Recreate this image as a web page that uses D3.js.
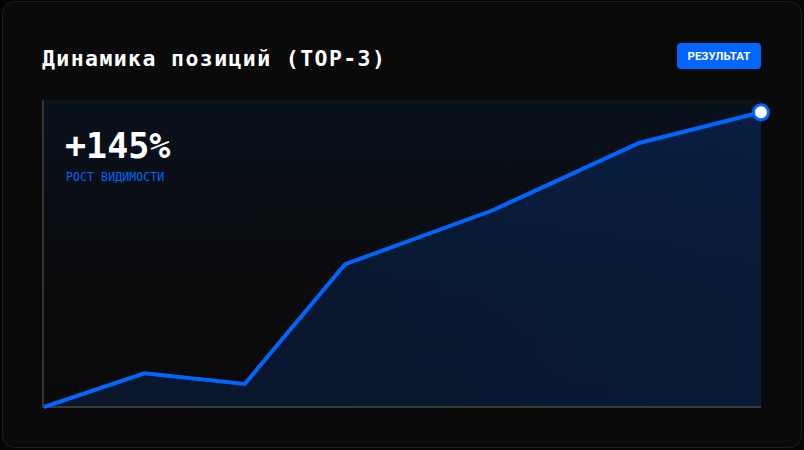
<!DOCTYPE html>
<html>
<head>
<meta charset="utf-8">
<script src="https://cdn.jsdelivr.net/npm/d3@7"></script>
<style>
  html, body { margin: 0; padding: 0; background: #050505; }
  svg { display: block; }
</style>
</head>
<body>
<svg id="chart" width="804" height="450"></svg>
<script>
// data
var periods = [0, 14, 28, 42, 62.5, 83, 100];      // share of the period, %
var visibility = [0, 11, 7.5, 46.5, 64, 86, 96];   // visibility index
var yDomain = [0, 100];
var titleText = "Динамика позиций (TOP-3)";
var badgeText = "РЕЗУЛЬТАТ";
var kpiValue = "+145%";
var kpiLabel = "РОСТ ВИДИМОСТИ";

var blue = "#0066ff";
var mono = "'DejaVu Sans Mono', 'Liberation Mono', monospace";

var svg = d3.select("#chart");
var defs = svg.append("defs");

// card
svg.append("rect")
    .attr("x", 2.5).attr("y", 1.5)
    .attr("width", 799).attr("height", 446)
    .attr("rx", 12)
    .attr("fill", "#0a0a0a")
    .attr("stroke", "#1e1e1e");

var margin = {left: 44, right: 43, top: 100, bottom: 43};
var plotLeft = margin.left, plotRight = 804 - margin.right;
var plotTop = margin.top, plotBottom = 450 - margin.bottom;

var x = d3.scaleLinear().domain([0, 100]).range([plotLeft, plotRight]);
var y = d3.scaleLinear().domain(yDomain).range([plotBottom, plotTop]);

var bgGrad = defs.append("linearGradient")
    .attr("id", "bgGrad").attr("x1", 0).attr("y1", 0).attr("x2", 0).attr("y2", 1);
bgGrad.append("stop").attr("offset", "0%").attr("stop-color", blue).attr("stop-opacity", 0.08);
bgGrad.append("stop").attr("offset", "60%").attr("stop-color", blue).attr("stop-opacity", 0.01);
bgGrad.append("stop").attr("offset", "100%").attr("stop-color", blue).attr("stop-opacity", 0.0);

var areaGrad = defs.append("linearGradient")
    .attr("id", "areaGrad").attr("x1", 0).attr("y1", 0).attr("x2", 1).attr("y2", 0);
areaGrad.append("stop").attr("offset", "0%").attr("stop-color", blue).attr("stop-opacity", 0.13);
areaGrad.append("stop").attr("offset", "100%").attr("stop-color", blue).attr("stop-opacity", 0.17);

// plot background
svg.append("rect")
    .attr("x", plotLeft).attr("y", plotTop)
    .attr("width", plotRight - plotLeft).attr("height", plotBottom - plotTop)
    .attr("fill", "url(#bgGrad)");

var pts = periods.map(function(p, i) { return [p, visibility[i]]; });

var area = d3.area()
    .x(function(d) { return x(d[0]); })
    .y0(y(yDomain[0]))
    .y1(function(d) { return y(d[1]); });

var line = d3.line()
    .x(function(d) { return x(d[0]); })
    .y(function(d) { return y(d[1]); });

svg.append("path")
    .datum(pts)
    .attr("d", area)
    .attr("fill", "url(#areaGrad)");

// axes lines
svg.append("line")
    .attr("x1", plotLeft - 1).attr("x2", plotLeft - 1)
    .attr("y1", plotTop).attr("y2", plotBottom)
    .attr("stroke", "#333").attr("stroke-width", 2);
svg.append("line")
    .attr("x1", plotLeft - 2).attr("x2", plotRight)
    .attr("y1", plotBottom).attr("y2", plotBottom)
    .attr("stroke", "#3a3a3a").attr("stroke-width", 2);

svg.append("path")
    .datum(pts)
    .attr("d", line)
    .attr("fill", "none")
    .attr("stroke", blue)
    .attr("stroke-width", 4);

var last = pts[pts.length - 1];
svg.append("circle")
    .attr("cx", x(last[0])).attr("cy", y(last[1]))
    .attr("r", 7.5)
    .attr("fill", "#fff")
    .attr("stroke", blue)
    .attr("stroke-width", 3);

// title
svg.append("text")
    .attr("x", 42).attr("y", 66)
    .attr("fill", "#fff")
    .style("font-family", mono)
    .style("font-weight", "bold")
    .style("font-size", "21.5px")
    .style("letter-spacing", "1.4px")
    .text(titleText);

// badge
var badge = svg.append("g").attr("transform", "translate(677,43)");
badge.append("rect")
    .attr("width", 84).attr("height", 26)
    .attr("rx", 4)
    .attr("fill", blue);
badge.append("text")
    .attr("x", 42).attr("y", 17)
    .attr("text-anchor", "middle")
    .attr("fill", "#fff")
    .style("font-family", "Roboto, 'Noto Sans', sans-serif")
    .style("font-weight", "bold")
    .style("font-size", "11.5px")
    .text(badgeText);

// kpi
svg.append("text")
    .attr("x", 65).attr("y", 158)
    .attr("fill", "#fff")
    .style("font-family", mono)
    .style("font-weight", "bold")
    .style("font-size", "35px")
    .style("letter-spacing", "0px")
    .text(kpiValue);
svg.append("text")
    .attr("x", 66).attr("y", 181)
    .attr("fill", blue)
    .style("font-family", mono)
    .style("font-size", "11.5px")
    .style("letter-spacing", "0.1px")
    .text(kpiLabel);
</script>
</body>
</html>
